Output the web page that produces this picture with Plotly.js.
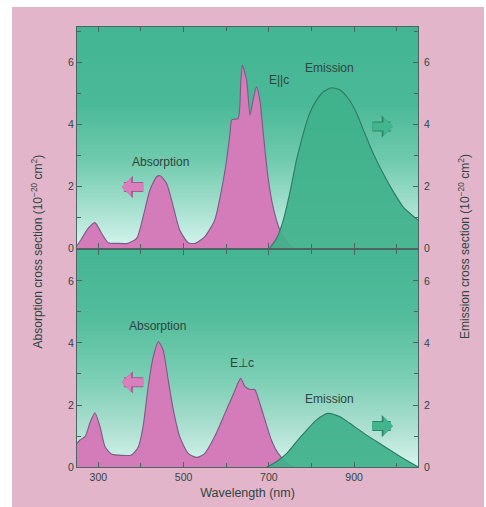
<!DOCTYPE html>
<html>
<head>
<meta charset="utf-8">
<script src="https://cdn.plot.ly/plotly-3.0.1.min.js"></script>
<style>
  html, body { margin: 0; padding: 0; background: #ffffff; }
  #chart { position: absolute; left: 12px; top: 7px; width: 472px; height: 500px; }
</style>
</head>
<body>
<div id="chart"></div>
<script>
// ---- data ----
// Top panel, E||c absorption (left axis, 1e-20 cm^2)
const wlAbsTop = [250, 259, 276, 292, 308, 323, 345, 369, 390, 405, 421, 437, 445, 460, 476, 491, 511, 527, 550, 573, 589, 601, 609, 613, 628, 634, 638, 648, 656, 663, 671, 679, 687, 698, 710, 726, 742, 757];
const absTop   = [0.08, 0.26, 0.63, 0.82, 0.47, 0.17, 0.15, 0.15, 0.31, 1.0, 1.87, 2.3, 2.33, 2.09, 1.33, 0.58, 0.17, 0.15, 0.37, 0.9, 1.87, 2.84, 3.7, 4.13, 4.18, 5.3, 5.9, 5.4, 4.29, 4.77, 5.2, 4.77, 3.7, 2.3, 1.33, 0.58, 0.2, 0.0];
// Top panel emission (right axis)
const wlEmTop = [702, 718, 734, 749, 765, 781, 796, 812, 828, 847, 867, 886, 906, 925, 945, 968, 992, 1015, 1050];
const emTop   = [0.0, 0.31, 0.9, 1.76, 2.84, 3.7, 4.35, 4.77, 5.04, 5.17, 5.1, 4.83, 4.35, 3.7, 3.05, 2.41, 1.82, 1.33, 0.9];
// Bottom panel, E⊥c absorption (left axis)
const wlAbsBot = [250, 257, 269, 280, 292, 304, 316, 331, 378, 394, 405, 417, 429, 441, 452, 464, 476, 491, 511, 531, 550, 573, 597, 616, 634, 644, 656, 667, 679, 691, 706, 722, 742, 757];
const absBot   = [0.76, 0.87, 0.98, 1.41, 1.75, 1.3, 0.65, 0.42, 0.39, 0.65, 1.3, 2.59, 3.56, 4.04, 3.77, 2.8, 1.84, 0.98, 0.44, 0.31, 0.44, 0.98, 1.73, 2.32, 2.86, 2.59, 2.5, 2.5, 2.05, 1.52, 0.87, 0.44, 0.14, 0.0];
// Bottom panel emission (right axis)
const wlEmBot = [695, 718, 742, 765, 789, 812, 839, 867, 890, 921, 953, 984, 1015, 1050];
const emBot   = [0.0, 0.17, 0.44, 0.82, 1.19, 1.52, 1.73, 1.62, 1.41, 1.11, 0.82, 0.55, 0.28, 0.0];
// Axis ticks and ranges
const xTickVals = [300, 500, 700, 900];
const yTickVals = [0, 2, 4, 6];
const xRange = [250, 1050];
const yRangeTop = [0, 7.13];
const yRangeBot = [0, 7.0];

// ---- styles ----
const PINK = '#d97fbd', PINK_LINE = '#7b5a86', PINK_EDGE = '#a35a92';
const GREEN = '#42b58d', GREEN_LINE = '#2d7a64', GREEN_EDGE = '#2d8468';
const AXIS = '#4b6660';
const TXT = '#2f4540';
const FONT = 'Liberation Sans, Arial, sans-serif';

function fillTrace(x, y, xa, ya, fill, line) {
  return { x: x, y: y, xaxis: xa, yaxis: ya, type: 'scatter', mode: 'lines',
    fill: 'tozeroy', fillcolor: fill,
    line: { color: line, width: 1.1, shape: 'spline', smoothing: 0.6 },
    hoverinfo: 'skip', showlegend: false };
}

const traces = [
  fillTrace(wlAbsBot, absBot, 'x', 'y', '#d47bb9', PINK_LINE),
  fillTrace(wlAbsTop, absTop, 'x2', 'y2', '#d47bb9', PINK_LINE),
  fillTrace(wlEmBot, emBot, 'x', 'y3', 'rgba(63,178,139,0.93)', GREEN_LINE),
  fillTrace(wlEmTop, emTop, 'x2', 'y4', 'rgba(63,178,139,0.93)', GREEN_LINE)
];

function grad(stops) {
  let s = '<svg xmlns="http://www.w3.org/2000/svg" width="10" height="100" preserveAspectRatio="none">' +
    '<defs><linearGradient id="g" x1="0" y1="0" x2="0" y2="1">';
  stops.forEach(function (p) { s += '<stop offset="' + p[0] + '" stop-color="' + p[1] + '"/>'; });
  s += '</linearGradient></defs><rect width="10" height="100" fill="url(#g)"/></svg>';
  return 'data:image/svg+xml;base64,' + btoa(s);
}

const botDom = [0, 0.4932];
const topDom = [0.4977, 1];

const tickFont = { family: FONT, size: 10.5, color: TXT };
const xBase = { range: xRange, showline: true, linecolor: AXIS, linewidth: 1, mirror: 'ticks',
  ticks: 'inside', ticklen: 5, tickcolor: AXIS, tickvals: xTickVals,
  minor: { dtick: 100, tick0: 300, ticks: 'inside', ticklen: 4, tickcolor: AXIS },
  showgrid: false, zeroline: false, tickfont: tickFont };
const yBase = { showline: true, linecolor: AXIS, linewidth: 1, mirror: 'ticks',
  ticks: 'inside', ticklen: 5, tickcolor: AXIS, tickvals: yTickVals,
  minor: { dtick: 1, tick0: 0, ticks: 'inside', ticklen: 4, tickcolor: AXIS },
  showgrid: false, zeroline: false, tickfont: tickFont };

function ann(text, x, y, xref, yref, size) {
  return { text: text, x: x, y: y, xref: xref, yref: yref, showarrow: false,
    font: { family: FONT, size: size || 12, color: TXT } };
}
function arrow(x, y, xref, yref, ax, color, w, s) {
  return { text: '', x: x, y: y, xref: xref, yref: yref, ax: ax, ay: 0,
    showarrow: true, arrowhead: 1, arrowwidth: w, arrowsize: s, arrowcolor: color, standoff: 0 };
}
function blockArrow(x, y, xref, yref, ax, color, edge) {
  return [arrow(x, y, xref, yref, ax, edge, 10, 0.37), arrow(x, y, xref, yref, ax, color, 8, 0.39)];
}

const layout = {
  width: 472, height: 500,
  margin: { l: 65, r: 66, t: 20, b: 40 },
  paper_bgcolor: '#e3b5cb', plot_bgcolor: 'rgba(0,0,0,0)',
  font: { family: FONT, color: TXT },
  xaxis: Object.assign({}, xBase, { domain: [0, 1], anchor: 'y',
    title: { text: 'Wavelength (nm)', font: { family: FONT, size: 12.5, color: TXT }, standoff: 6 } }),
  xaxis2: Object.assign({}, xBase, { domain: [0, 1], anchor: 'y2', matches: 'x', showticklabels: false }),
  yaxis: Object.assign({}, yBase, { domain: botDom, range: yRangeBot, anchor: 'x' }),
  yaxis2: Object.assign({}, yBase, { domain: topDom, range: yRangeTop, anchor: 'x2' }),
  yaxis3: Object.assign({}, yBase, { range: yRangeBot, overlaying: 'y', side: 'right', anchor: 'x', mirror: false, ticklabelstandoff: 3 }),
  yaxis4: Object.assign({}, yBase, { range: yRangeTop, overlaying: 'y2', side: 'right', anchor: 'x2', mirror: false, ticklabelstandoff: 3 }),
  images: [
    { source: grad([[0, '#43b593'], [0.35, '#4ab997'], [0.6, '#6fcaad'], [0.82, '#a6e0cf'], [1, '#d6f5ee']]),
      xref: 'paper', yref: 'paper', x: 0, y: 1, sizex: 1, sizey: topDom[1] - topDom[0],
      xanchor: 'left', yanchor: 'top', sizing: 'stretch', layer: 'below' },
    { source: grad([[0, '#45b593'], [0.3, '#52bc9b'], [0.6, '#7ccfb5'], [0.82, '#addfd0'], [1, '#d6f5ee']]),
      xref: 'paper', yref: 'paper', x: 0, y: botDom[1], sizex: 1, sizey: botDom[1] - botDom[0],
      xanchor: 'left', yanchor: 'top', sizing: 'stretch', layer: 'below' }
  ],
  annotations: [
    ann('Absorption', 446, 2.78, 'x2', 'y2'),
    ann('E||c', 724, 5.42, 'x2', 'y2'),
    ann('Emission', 842, 5.8, 'x2', 'y4'),
    ann('Absorption', 440, 4.55, 'x', 'y'),
    ann('E⊥c', 637, 3.35, 'x', 'y'),
    ann('Emission', 842, 2.2, 'x', 'y3'),
    { text: 'Absorption cross section (10<sup>−20</sup> cm<sup>2</sup>)', textangle: -90,
      xref: 'paper', yref: 'paper', x: 0, y: 0.49, xshift: -50, showarrow: false,
      font: { family: FONT, size: 12, color: TXT } },
    { text: 'Emission cross section (10<sup>−20</sup> cm<sup>2</sup>)', textangle: -90,
      xref: 'paper', yref: 'paper', x: 1, y: 0.5, xshift: 56, showarrow: false,
      font: { family: FONT, size: 12, color: TXT } }
  ].concat(
    blockArrow(355, 1.97, 'x2', 'y2', 23, PINK, PINK_EDGE),
    blockArrow(991, 3.92, 'x2', 'y4', -22, GREEN, GREEN_EDGE),
    blockArrow(355, 2.73, 'x', 'y', 23, PINK, PINK_EDGE),
    blockArrow(991, 1.32, 'x', 'y3', -22, GREEN, GREEN_EDGE)
  )
};

Plotly.newPlot('chart', traces, layout, { displayModeBar: false, staticPlot: true });
</script>
</body>
</html>
